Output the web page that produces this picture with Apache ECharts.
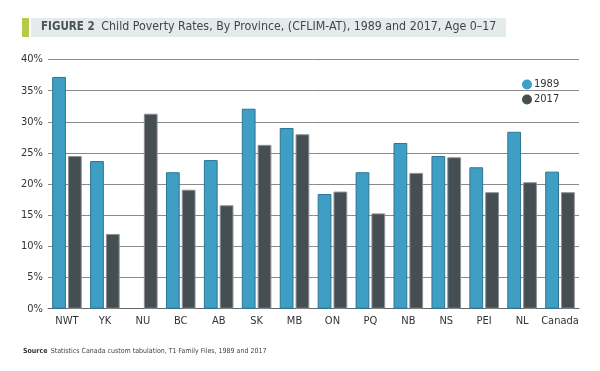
<!DOCTYPE html>
<html>
<head>
<meta charset="utf-8">
<script src="https://cdn.jsdelivr.net/npm/echarts@6/dist/echarts.min.js"></script>
<style>html,body{margin:0;padding:0;background:#fff}#c{width:600px;height:371px}</style>
</head>
<body>
<div id="c"></div>
<script>
var categories = ['NWT','YK','NU','BC','AB','SK','MB','ON','PQ','NB','NS','PEI','NL','Canada'];
var values1989 = [37.2, 23.7, null, 21.9, 23.85, 32.1, 29.0, 18.4, 21.9, 26.6, 24.5, 22.7, 28.4, 22.0];
var values2017 = [24.5, 12.0, 31.3, 19.1, 16.6, 26.3, 28.0, 18.8, 15.3, 21.8, 24.3, 18.7, 20.3, 18.7];
var yTicks = {min: 0, max: 40, interval: 5};

var FONT = '"Liberation Sans Narrow", "DejaVu Sans Condensed", "Liberation Sans", sans-serif';
var chart = echarts.init(document.getElementById('c'), null, {renderer: 'canvas'});
chart.setOption({
  backgroundColor: '#fff',
  animation: false,
  textStyle: {fontFamily: FONT},
  graphic: [
    {type: 'rect', shape: {x: 22, y: 18, width: 7, height: 19}, style: {fill: '#b5cc4a'}},
    {type: 'rect', shape: {x: 31, y: 18, width: 475, height: 19}, style: {fill: '#e4ebeb'}},
    {type: 'text', left: 41, top: 21, style: {
      text: '{b|FIGURE 2}  {n|Child Poverty Rates, By Province, (CFLIM-AT), 1989 and 2017, Age 0\u201317}',
      rich: {
        b: {fontFamily: FONT, fontSize: 11.5, fontWeight: 'bold', fill: '#4a5358', letterSpacing: 0.5},
        n: {fontFamily: FONT, fontSize: 12.3, fill: '#3e474c'}
      }
    }},
    {type: 'text', left: 23, top: 345, style: {
      text: '{b|Source} {n|Statistics Canada custom tabulation, T1 Family Files, 1989 and 2017}',
      rich: {
        b: {fontFamily: FONT, fontSize: 7, fontWeight: 'bold', fill: '#333'},
        n: {fontFamily: FONT, fontSize: 7, fill: '#444'}
      }
    }}
  ],
  legend: {
    orient: 'vertical',
    left: 517,
    top: 74,
    icon: 'circle',
    itemWidth: 10,
    itemHeight: 10,
    itemGap: 4,
    itemStyle: {borderWidth: 0},
    textStyle: {fontFamily: FONT, fontSize: 11, color: '#333', padding: [0,0,0,-3]},
    data: ['1989', '2017']
  },
  grid: {left: 48, right: 21, top: 59.5, bottom: 62.3, containLabel: false},
  xAxis: {
    type: 'category',
    data: categories,
    axisTick: {show: false},
    axisLine: {lineStyle: {color: '#666', width: 1}},
    axisLabel: {interval: 0, fontFamily: FONT, fontSize: 11, color: '#333', margin: 7}
  },
  yAxis: {
    type: 'value',
    min: yTicks.min, max: yTicks.max, interval: yTicks.interval,
    axisLine: {show: false},
    axisTick: {show: false},
    axisLabel: {fontFamily: FONT, fontSize: 11, color: '#333', margin: 5, formatter: '{value}%'},
    splitLine: {lineStyle: {color: '#8a8a8a', width: 1}}
  },
  series: [
    {name: '1989', type: 'bar', data: values1989, barGap: '15%', barCategoryGap: '22%',
     itemStyle: {color: '#3f9ec3', borderColor: '#2c7593', borderWidth: 1}},
    {name: '2017', type: 'bar', data: values2017,
     itemStyle: {color: '#444e53', borderColor: '#8c9194', borderWidth: 1}}
  ]
});
</script>
</body>
</html>
